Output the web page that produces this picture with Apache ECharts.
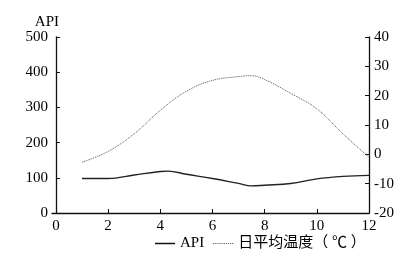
<!DOCTYPE html>
<html><head><meta charset="utf-8">
<script src="https://cdn.jsdelivr.net/npm/echarts@6/dist/echarts.min.js"></script>
<style>html,body{margin:0;padding:0;background:#fff}#c{width:415px;height:261px}</style>
</head><body><div id="c"></div>
<script>
var xTicks = [0, 2, 4, 6, 8, 10, 12];
var apiX = [1, 2, 3, 4, 4.3, 5, 6, 7, 7.5, 8, 9, 10, 11, 12];
var apiY = [98, 98, 108, 118, 119, 110, 98, 84, 77, 79, 84, 97, 104, 107];
var tempX = [1, 2, 3, 4, 5, 6, 7, 7.5, 8, 9, 10, 11, 12];
var tempY = [-2.7, 1, 7, 15, 21.5, 25.2, 26.5, 26.8, 25.5, 20.8, 15.5, 7, -1];
var leftTicks = [0, 100, 200, 300, 400, 500];
var rightTicks = [-20, -10, 0, 10, 20, 30, 40];
var names = ['API', '日平均温度（ ℃ ）'];

function pairs(xs, ys) { return xs.map(function (x, i) { return [x, ys[i]]; }); }

var dotPath = 'path://';
for (var k = 0; k < 10; k++) { dotPath += 'M' + (k * 2) + ',0h1v1h-1z'; }

var serif = 'Liberation Serif';
var chart = echarts.init(document.getElementById('c'));
chart.setOption({
  animation: false,
  backgroundColor: '#fff',
  grid: { left: 52, right: 46, top: 37, bottom: 48 },
  legend: {
    bottom: 5, left: 150,
    itemWidth: 20, itemHeight: 1.5, itemGap: 9,
    textStyle: { fontFamily: serif + ', Noto Sans CJK SC', fontSize: 15, color: '#000' },
    data: [
      { name: names[0], icon: 'rect', itemStyle: { color: '#111' } },
      { name: names[1], icon: dotPath, itemStyle: { color: '#555' } }
    ]
  },
  xAxis: {
    type: 'value', min: -0.15, max: 12,
    axisLine: { lineStyle: { color: '#111', width: 1.3 } },
    axisTick: { inside: true, length: 4, customValues: xTicks, lineStyle: { color: '#111' } },
    axisLabel: { customValues: xTicks, color: '#000', fontFamily: serif, fontSize: 15, margin: 6 },
    splitLine: { show: false }
  },
  yAxis: [{
    type: 'value', min: 0, max: 500, interval: 100, name: 'API',
    nameGap: 6, nameTextStyle: { fontFamily: serif, fontSize: 15, color: '#000', padding: [0, 18, 0, 0] },
    axisLine: { show: true, lineStyle: { color: '#111', width: 1.3 } },
    axisTick: { show: true, inside: true, length: 4, lineStyle: { color: '#111' } },
    axisLabel: { color: '#000', fontFamily: serif, fontSize: 15, margin: 4 },
    splitLine: { show: false }
  }, {
    type: 'value', min: -20, max: 40, interval: 10, position: 'right',
    axisLine: { show: true, lineStyle: { color: '#111', width: 1.3 } },
    axisTick: { show: true, inside: true, length: 4, lineStyle: { color: '#111' } },
    axisLabel: { color: '#000', fontFamily: serif, fontSize: 15, margin: 5 },
    splitLine: { show: false }
  }],
  series: [{
    name: names[0], type: 'line', yAxisIndex: 0, smooth: 0.4, symbol: 'none',
    lineStyle: { color: '#222', width: 1.4 }, itemStyle: { color: '#222' },
    data: pairs(apiX, apiY)
  }, {
    name: names[1], type: 'line', yAxisIndex: 1, smooth: 0.4, symbol: 'none',
    lineStyle: { color: '#555', width: 1, type: [1, 1] }, itemStyle: { color: '#555' },
    data: pairs(tempX, tempY)
  }]
});
</script></body></html>
